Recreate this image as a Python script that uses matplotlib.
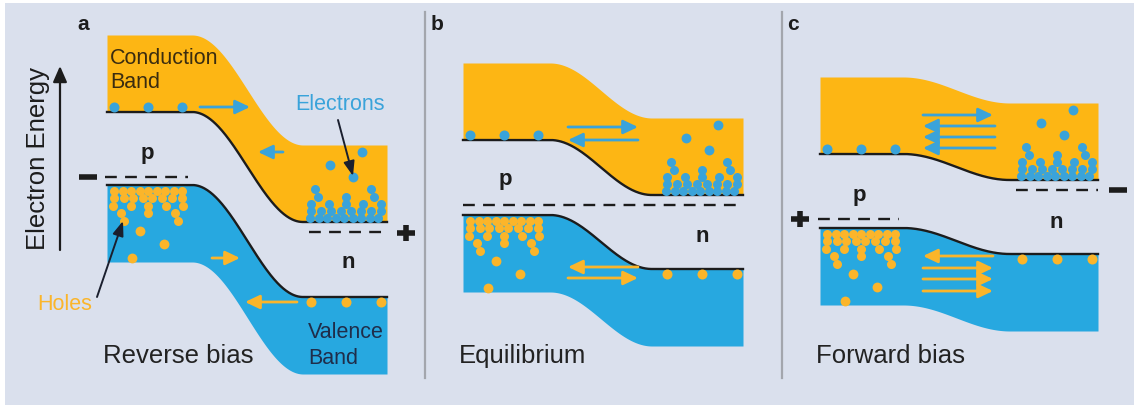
import numpy as np
import matplotlib.pyplot as plt
import matplotlib.patches as patches

plt.rcParams['font.family'] = ['Liberation Sans', 'DejaVu Sans']

# band diagram levels, in canvas units (y grows downward)
panel_labels = ['a', 'b', 'c']
panel_titles = ['Reverse bias', 'Equilibrium', 'Forward bias']
band_left = [107, 463, 820]
band_right = [387, 743, 1098]
bend_start = [192, 550, 903]
bend_end = [303, 652, 1010]
cb_edge_p = [112, 140, 154]
cb_edge_n = [222, 195, 180]
vb_edge_p = [185, 215, 228]
vb_edge_n = [297, 269, 254]
fermi_p = [177, 205, 219]
fermi_n = [232, 205, 190]
band_depth = 77

# carrier flow arrows: (x_from, x_to, y)
electron_flow = [
    [(200, 250, 107), (283, 258, 152)],
    [(568, 638, 127), (638, 568, 140)],
    [(923, 993, 115), (995, 923, 126), (995, 923, 137), (995, 923, 148)],
]
hole_flow = [
    [(212, 240, 258), (297, 245, 302)],
    [(638, 568, 267), (568, 638, 278)],
    [(993, 923, 256), (923, 993, 268), (923, 993, 279), (923, 993, 291)],
]

# minority carriers sitting on the band edge
edge_dx_p = [7, 41, 75]
edge_dx_n = [-76, -41, -6]

# majority carrier piles: holes from VB top-left, electrons from CB bottom-right
hole_rows = [
    (5.5, [7, 15.5, 24, 32.5, 41, 49.5, 58, 66.5, 75]),
    (13, [7, 16.5, 26, 35.5, 45, 55, 65, 75]),
    (20.5, [6, 23.5, 41, 58.5, 75.5]),
    (28, [14, 41, 68]),
    (36, [17, 71]),
]
hole_loose = [(33, 46), (57, 59), (25, 73)]
electron_rows = [
    (-4.5, [-77, -68.5, -60, -51.5, -43, -34.5, -26, -17.5, -9]),
    (-11.5, [-76, -66, -56, -46, -36, -26, -16, -6]),
    (-18.5, [-76, -58, -41, -24, -6]),
    (-25.5, [-69, -41, -13]),
    (-33, [-72, -16]),
]
electron_loose = [(-57, -57), (-34, -45), (-25, -70)]

bg = '#DAE0ED'
orange = '#FDB614'
blue = '#27A8E0'
e_dot = '#3AA3DA'
h_dot = '#FBB52A'
ink = '#1c1c1c'


def smooth_step(x, x0, x1, y0, y1):
    t = np.clip((x - x0) / (x1 - x0), 0, 1)
    return y0 + (y1 - y0) * (1 - np.cos(np.pi * t)) / 2


def flow_arrow(ax, x0, x1, y, color):
    ax.annotate('', xy=(x1, y), xytext=(x0, y),
                arrowprops=dict(arrowstyle='-|>,head_length=0.8,head_width=0.38',
                                color=color, lw=2.0, shrinkA=0, shrinkB=0,
                                mutation_scale=11))


def draw_sign(ax, x, y, plus):
    half = 9
    ax.plot([x - half, x + half], [y, y], color=ink, lw=4, solid_capstyle='butt')
    if plus:
        ax.plot([x, x], [y - 8, y + 8], color=ink, lw=4, solid_capstyle='butt')


fig = plt.figure(figsize=(11.34, 4.07), dpi=100)
fig.patch.set_facecolor('white')
ax = fig.add_axes([0, 0, 1, 1])
ax.set_xlim(0, 1134)
ax.set_ylim(407, 0)
ax.axis('off')

ax.add_patch(patches.Rectangle((5, 3), 1129, 402, facecolor=bg, edgecolor='none', zorder=0))

# panel separators
for xs in [425, 782]:
    ax.plot([xs, xs], [12, 378], color='#a3a6ad', lw=1.6, zorder=1)

for i in range(3):
    x = np.linspace(band_left[i], band_right[i], 400)
    cb = smooth_step(x, bend_start[i], bend_end[i], cb_edge_p[i], cb_edge_n[i])
    vb = smooth_step(x, bend_start[i], bend_end[i], vb_edge_p[i], vb_edge_n[i])

    ax.fill_between(x, cb - band_depth, cb, color=orange, lw=0, zorder=2)
    ax.fill_between(x, vb, vb + band_depth, color=blue, lw=0, zorder=2)
    ax.plot(x, cb, color=ink, lw=1.7, zorder=3)
    ax.plot(x, vb, color=ink, lw=1.7, zorder=3)

    # Fermi levels
    dash = dict(color=ink, lw=1.7, dashes=(5, 3.5), zorder=3)
    if fermi_p[i] == fermi_n[i]:
        ax.plot([band_left[i], band_right[i]], [fermi_p[i], fermi_p[i]], **dash)
    else:
        ax.plot([band_left[i] - 2, bend_start[i] - 4], [fermi_p[i], fermi_p[i]], **dash)
        ax.plot([bend_end[i] + 6, band_right[i]], [fermi_n[i], fermi_n[i]], **dash)

    # minority carriers on the band edges
    ax.scatter([band_left[i] + d for d in edge_dx_p], [cb_edge_p[i] - 5] * 3,
               s=52, color=e_dot, lw=0, zorder=4)
    ax.scatter([band_right[i] + d for d in edge_dx_n], [vb_edge_n[i] + 5] * 3,
               s=52, color=h_dot, lw=0, zorder=4)

    # majority carriers
    hx, hy = [], []
    for dy, dxs in hole_rows:
        hx += [band_left[i] + d for d in dxs]
        hy += [vb_edge_p[i] + dy] * len(dxs)
    ax.scatter(hx, hy, s=42, color=h_dot, lw=0, zorder=4)
    ax.scatter([band_left[i] + d for d, _ in hole_loose],
               [vb_edge_p[i] + d for _, d in hole_loose],
               s=50, color=h_dot, lw=0, zorder=4)

    ex, ey = [], []
    for dy, dxs in electron_rows:
        ex += [band_right[i] + d for d in dxs]
        ey += [cb_edge_n[i] + dy] * len(dxs)
    ax.scatter(ex, ey, s=42, color=e_dot, lw=0, zorder=4)
    ax.scatter([band_right[i] + d for d, _ in electron_loose],
               [cb_edge_n[i] + d for _, d in electron_loose],
               s=50, color=e_dot, lw=0, zorder=4)

    for x0, x1, y in electron_flow[i]:
        flow_arrow(ax, x0, x1, y, e_dot)
    for x0, x1, y in hole_flow[i]:
        flow_arrow(ax, x0, x1, y, h_dot)

    ax.text(band_left[i] - 4, 363, panel_titles[i], fontsize=18.5, color='#222222',
            ha='left', va='baseline')

# panel letters and p / n labels
for lx, lab in zip([83, 437, 793], panel_labels):
    ax.text(lx, 25, lab, fontsize=15, fontweight='bold', color=ink, ha='center', va='center')
for px, py in [(147, 153), (505, 180), (859, 195)]:
    ax.text(px, py, 'p', fontsize=16, fontweight='bold', color=ink, ha='center', va='center')
for nx_, ny in [(348, 263), (702, 236), (1056, 223)]:
    ax.text(nx_, ny, 'n', fontsize=16, fontweight='bold', color=ink, ha='center', va='center')

# bias terminals
draw_sign(ax, 88, fermi_p[0], plus=False)
draw_sign(ax, 406, fermi_n[0] + 1, plus=True)
draw_sign(ax, 800, fermi_p[2], plus=True)
draw_sign(ax, 1118, fermi_n[2], plus=False)

# annotations in panel a
ax.text(110, 58, 'Conduction', fontsize=15.5, color='#3a2c10', ha='left', va='center', zorder=5)
ax.text(110, 83, 'Band', fontsize=15.5, color='#3a2c10', ha='left', va='center', zorder=5)
ax.text(308, 333, 'Valence', fontsize=15.5, color='#1f2d4a', ha='left', va='center', zorder=5)
ax.text(308, 358, 'Band', fontsize=15.5, color='#1f2d4a', ha='left', va='center', zorder=5)
ax.text(340, 104, 'Electrons', fontsize=15.5, color=e_dot, ha='center', va='center', zorder=5)
ax.text(65, 305, 'Holes', fontsize=15.5, color=h_dot, ha='center', va='center', zorder=5)

pointer = dict(arrowstyle='-|>,head_length=0.8,head_width=0.3', color='#1a1f2e',
               lw=1.4, shrinkA=0, shrinkB=0, mutation_scale=11)
ax.annotate('', xy=(353, 176), xytext=(338, 120), arrowprops=pointer, zorder=6)
ax.annotate('', xy=(123, 221), xytext=(97, 297), arrowprops=pointer, zorder=6)

ax.text(38, 158, 'Electron Energy', fontsize=18.5, color=ink, rotation=90,
        ha='center', va='center')
ax.annotate('', xy=(60, 66), xytext=(60, 250),
            arrowprops=dict(arrowstyle='-|>,head_length=0.8,head_width=0.35', color=ink,
                            lw=1.6, shrinkA=0, shrinkB=0, mutation_scale=12))

fig.savefig('out.png', dpi=100, facecolor='white')
